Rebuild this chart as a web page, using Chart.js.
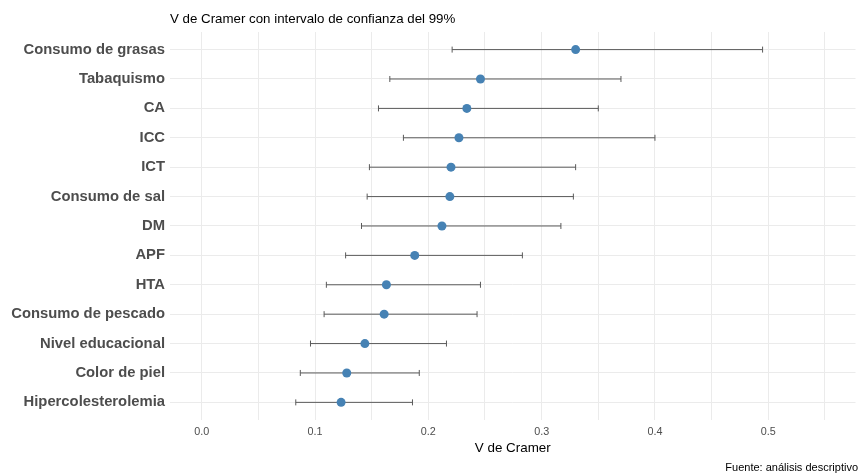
<!DOCTYPE html>
<html>
<head>
<meta charset="utf-8">
<script src="https://cdn.jsdelivr.net/npm/chart.js@4"></script>
<style>
  html, body { margin: 0; padding: 0; background: #ffffff; }
  #wrap { width: 860px; height: 473px; }
</style>
</head>
<body>
<div id="wrap"><canvas id="c" width="860" height="473"></canvas></div>
<script>
// ---- data ----
const categories = [
  "Consumo de grasas", "Tabaquismo", "CA", "ICC", "ICT", "Consumo de sal",
  "DM", "APF", "HTA", "Consumo de pescado", "Nivel educacional",
  "Color de piel", "Hipercolesterolemia"
];
const cramerV = [0.330, 0.246, 0.234, 0.227, 0.220, 0.219, 0.212, 0.188, 0.163, 0.161, 0.144, 0.128, 0.123];
const lowerCI = [0.221, 0.166, 0.156, 0.178, 0.148, 0.146, 0.141, 0.127, 0.110, 0.108, 0.096, 0.087, 0.083];
const upperCI = [0.495, 0.370, 0.350, 0.400, 0.330, 0.328, 0.317, 0.283, 0.246, 0.243, 0.216, 0.192, 0.186];
const xTickValues = [0, 0.05, 0.1, 0.15, 0.2, 0.25, 0.3, 0.35, 0.4, 0.45, 0.5, 0.55];
const xTickLabels = ["0.0", "", "0.1", "", "0.2", "", "0.3", "", "0.4", "", "0.5", ""];
const titleText = "V de Cramer con intervalo de confianza del 99%";
const xTitleText = "V de Cramer";
const captionText = "Fuente: análisis descriptivo";

const FONT = "'Liberation Sans', Arial, Helvetica, sans-serif";

const errorBars = {
  id: 'errorBars',
  beforeDatasetsDraw(chart) {
    const ctx = chart.ctx;
    const xs = chart.scales.x, ys = chart.scales.y;
    ctx.save();
    ctx.strokeStyle = '#5a5a5a';
    ctx.lineWidth = 1;
    const cap = 3;
    for (let i = 0; i < categories.length; i++) {
      const y = ys.getPixelForValue(i);
      const x1 = xs.getPixelForValue(lowerCI[i]);
      const x2 = xs.getPixelForValue(upperCI[i]);
      ctx.beginPath();
      ctx.moveTo(x1, y); ctx.lineTo(x2, y);
      ctx.moveTo(x1, y - cap); ctx.lineTo(x1, y + cap);
      ctx.moveTo(x2, y - cap); ctx.lineTo(x2, y + cap);
      ctx.stroke();
    }
    ctx.restore();
  }
};

new Chart(document.getElementById('c'), {
  type: 'scatter',
  data: {
    datasets: [{
      data: cramerV.map((v, i) => ({ x: v, y: i })),
      backgroundColor: '#4682B4',
      borderWidth: 0,
      pointRadius: 4.5,
      pointHoverRadius: 4.5
    }]
  },
  plugins: [errorBars],
  options: {
    responsive: false,
    animation: false,
    events: [],
    layout: { padding: { left: 0, right: 2, top: 0, bottom: 0 } },
    plugins: {
      legend: { display: false },
      tooltip: { enabled: false },
      title: {
        display: true,
        text: titleText,
        align: 'start',
        fullSize: false,
        color: '#000000',
        font: { family: FONT, size: 13.3, weight: 'normal', lineHeight: 1.2 },
        padding: { top: 11, bottom: 5 }
      },
      subtitle: {
        display: true,
        text: captionText,
        position: 'bottom',
        align: 'end',
        fullSize: true,
        color: '#000000',
        font: { family: FONT, size: 11, weight: 'normal', lineHeight: 1.0 },
        padding: { top: 4, bottom: 0 }
      }
    },
    scales: {
      x: {
        type: 'linear',
        min: -0.028,
        max: 0.577,
        afterBuildTicks(scale) {
          scale.ticks = xTickValues.map(v => ({ value: v }));
        },
        afterFit(scale) { scale.height = 38; },
        ticks: {
          autoSkip: false,
          maxRotation: 0,
          padding: 5.5,
          color: '#4d4d4d',
          font: { family: FONT, size: 10.8, lineHeight: 1.2 },
          callback: (value, index) => xTickLabels[index]
        },
        grid: { color: '#ebebeb', lineWidth: 1, drawTicks: false },
        border: { display: false },
        title: {
          display: true,
          text: xTitleText,
          color: '#000000',
          font: { family: FONT, size: 13.4, lineHeight: 1.2 },
          padding: { top: 2, bottom: 1.3 }
        }
      },
      y: {
        type: 'linear',
        reverse: true,
        min: -0.6,
        max: 12.6,
        afterBuildTicks(scale) {
          scale.ticks = categories.map((c, i) => ({ value: i }));
        },
        afterFit(scale) { scale.width = 170; },
        ticks: {
          autoSkip: false,
          padding: 5,
          color: '#4d4d4d',
          font: { family: FONT, size: 14.8, weight: 'bold', lineHeight: 1.2 },
          callback: (value) => categories[value]
        },
        grid: { color: '#ebebeb', lineWidth: 1, drawTicks: false },
        border: { display: false }
      }
    }
  }
});
</script>
</body>
</html>
